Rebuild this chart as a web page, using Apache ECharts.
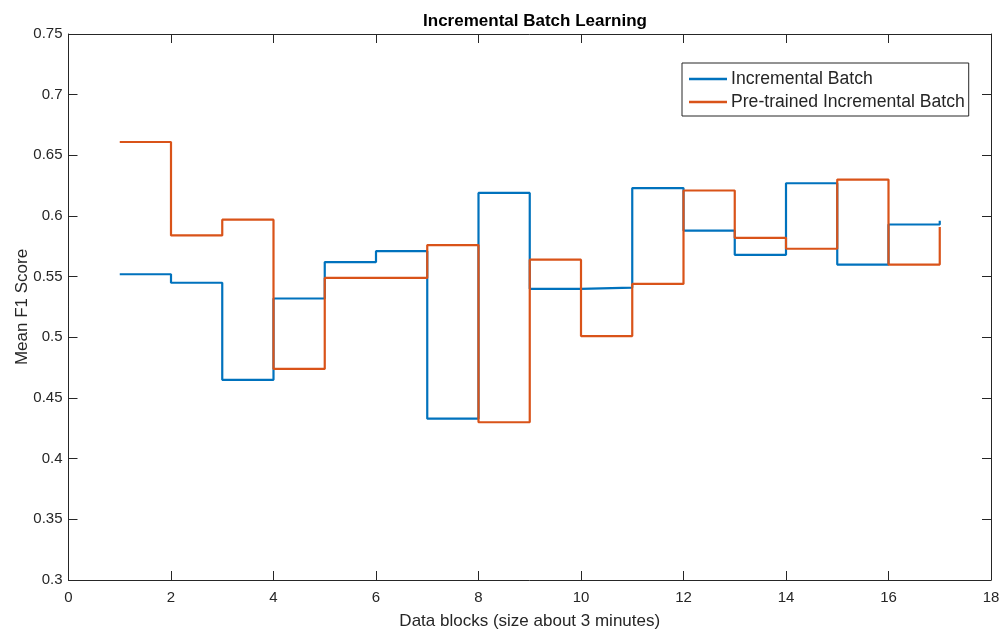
<!DOCTYPE html>
<html>
<head>
<meta charset="utf-8">
<script src="https://cdn.jsdelivr.net/npm/echarts@6/dist/echarts.min.js"></script>
<style>html,body{margin:0;padding:0;background:#fff;}#c{width:1003px;height:630px;}</style>
</head>
<body>
<div id="c"></div>
<script>
const blocks = [1,2,3,4,5,6,7,8,9,10,11,12,13,14,15,16,17];
const incrementalBatch = [0.552,0.545,0.465,0.532,0.562,0.571,0.433,0.619,0.540,0.541,0.623,0.588,0.568,0.627,0.560,0.593,0.596];
const pretrainedBatch = [0.661,0.584,0.597,0.474,0.549,0.549,0.576,0.430,0.564,0.501,0.544,0.621,0.582,0.573,0.630,0.560,0.591];
const seriesNames = ['Incremental Batch','Pre-trained Incremental Batch'];
const xTicks = [0,2,4,6,8,10,12,14,16,18];
const yTicks = [0.3,0.35,0.4,0.45,0.5,0.55,0.6,0.65,0.7,0.75];

const font = 'Liberation Sans, Arial, Helvetica, sans-serif';
const axisColor = '#262626';
const chart = echarts.init(document.getElementById('c'), null, {renderer:'canvas'});
const pair = (xs, ys) => xs.map((x,i)=>[x, ys[i]]);
const commonAxis = {
  axisLine:{show:true, onZero:false, lineStyle:{color:axisColor, width:1}},
  axisTick:{show:true, inside:true, length:9, lineStyle:{color:axisColor, width:1}},
  splitLine:{show:false}
};
chart.setOption({
  animation:false,
  backgroundColor:'#fff',
  title:{text:'Incremental Batch Learning', left:530, textAlign:'center', top:8,
    textStyle:{fontFamily:font, fontSize:17, fontWeight:'bold', color:'#000'}},
  grid:{left:68.5, right:12, top:34, bottom:50, containLabel:false, outerBoundsMode:'none'},
  legend:{
    orient:'vertical', left:682, top:63, data:seriesNames,
    icon:'rect', itemWidth:38, itemHeight:2.5, itemGap:3,
    padding:[6,4,4,7],
    borderColor:axisColor, borderWidth:1, backgroundColor:'#fff',
    textStyle:{fontFamily:font, fontSize:17.6, color:'#262626', padding:[0,0,0,-1], lineHeight:20}
  },
  xAxis:[
    Object.assign({type:'value', min:0, max:18, interval:2, position:'bottom',
      name:'Data blocks (size about 3 minutes)', nameLocation:'middle', nameGap:33, nameMoveOverlap:false,
      nameTextStyle:{fontFamily:font, fontSize:17, color:'#262626'},
      axisLabel:{fontFamily:font, fontSize:15, color:'#262626', margin:10,
        formatter:v=>xTicks.includes(v)?String(v):''}}, commonAxis),
    Object.assign({type:'value', min:0, max:18, interval:2, position:'top',
      axisLabel:{show:false}}, commonAxis)
  ],
  yAxis:[
    Object.assign({type:'value', min:0.3, max:0.75, interval:0.05, position:'left',
      name:'Mean F1 Score', nameLocation:'middle', nameGap:38, nameRotate:90, nameMoveOverlap:false,
      nameTextStyle:{fontFamily:font, fontSize:17, color:'#262626'},
      axisLabel:{fontFamily:font, fontSize:15, color:'#262626', margin:6,
        formatter:v=>{const r=Math.round(v*100)/100; return yTicks.some(t=>Math.abs(t-r)<1e-9)?String(r):'';}}}, commonAxis),
    Object.assign({type:'value', min:0.3, max:0.75, interval:0.05, position:'right',
      axisLabel:{show:false}}, commonAxis)
  ],
  series:[
    {name:seriesNames[0], type:'line', step:'end', data:pair(blocks, incrementalBatch),
      symbol:'none', xAxisIndex:0, yAxisIndex:0,
      lineStyle:{color:'#0072BD', width:2.2}, itemStyle:{color:'#0072BD'}},
    {name:seriesNames[1], type:'line', step:'end', data:pair(blocks, pretrainedBatch),
      symbol:'none', xAxisIndex:0, yAxisIndex:0,
      lineStyle:{color:'#D95319', width:2.2}, itemStyle:{color:'#D95319'}}
  ]
});
</script>
</body>
</html>
